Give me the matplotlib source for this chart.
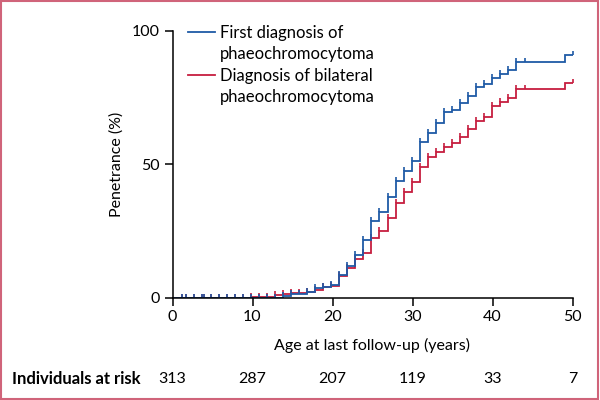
import numpy as np
import matplotlib
matplotlib.use("Agg")
import matplotlib.pyplot as plt
from matplotlib.lines import Line2D
from matplotlib.patches import Rectangle

plt.rcParams["font.family"] = ["Lato", "DejaVu Sans"]

# step times (age, years) and penetrance (%) after each step
first_ages = [0, 13.85, 14.85, 15.85, 16.8, 17.8, 18.8, 19.8, 20.8, 21.85, 22.85,
              23.85, 24.85, 25.85, 26.9, 27.9, 28.9, 29.9, 30.9, 31.9, 32.9,
              33.9, 34.95, 35.9, 36.95, 37.95, 38.95, 39.95, 40.95, 41.95, 42.95,
              49.05, 50]
first_vals = [0, 0.6, 1.3, 1.5, 2.1, 3.6, 4.0, 4.8, 8.4, 11.7, 15.9,
              21.4, 28.6, 32.0, 37.6, 43.7, 47.3, 51.4, 58.2, 61.8, 65.4,
              69.7, 70.4, 73.1, 75.7, 79.1, 80.0, 82.5, 83.7, 85.4, 88.2,
              91.0, 91.0]

bilat_ages = [0, 9.8, 12.8, 13.85, 14.85, 16.8, 17.8, 18.8, 19.8, 20.8, 21.85,
              22.85, 23.85, 24.85, 25.85, 26.9, 27.9, 28.9, 29.9, 30.9, 31.9,
              32.9, 33.9, 34.95, 35.9, 36.95, 37.95, 38.95, 39.95, 40.95, 41.95,
              42.95, 49.05, 50]
bilat_vals = [0, 0.3, 0.8, 1.3, 1.6, 2.1, 3.0, 3.8, 4.5, 7.9, 10.9,
              14.6, 16.6, 22.2, 25.1, 29.7, 35.6, 39.7, 43.2, 49.0, 52.6,
              54.7, 56.6, 57.9, 60.1, 63.1, 66.4, 67.6, 71.9, 73.2, 75.0,
              78.2, 80.6, 80.6]

# censoring marks
censor_ages = [1.2, 1.7, 2.7, 3.7, 3.9, 4.8, 5.8, 6.8, 7.8, 8.8, 9.8, 10.8,
               11.8, 12.8, 13.85, 14.85, 15.85, 16.8, 17.8, 18.8, 19.8, 20.8,
               21.85, 22.85, 23.85, 24.85, 25.85, 26.9, 27.9, 28.9, 29.9, 30.9,
               31.9, 32.9, 33.9, 34.95, 35.9, 36.95, 37.95, 38.95, 39.95, 40.95,
               41.95, 42.95, 44.05, 50]

risk_ages = [0, 10, 20, 30, 40, 50]
at_risk = [313, 287, 207, 119, 33, 7]

legend_labels = [("First diagnosis of", "phaeochromocytoma"),
                 ("Diagnosis of bilateral", "phaeochromocytoma")]

blue = "#1f5aa6"
red = "#c61e3f"

fig = plt.figure(figsize=(6, 4), dpi=100)
ax = fig.add_axes([172.5 / 600, 102.5 / 400, 400 / 600, 266.5 / 400])

tick_marker = [(0, 0), (0, 1)]


def draw_curve(ages, vals, color):
    ax.step(ages, vals, where="post", color=color, lw=1.3, solid_joinstyle="miter")
    idx = np.searchsorted(ages, censor_ages, side="right") - 1
    cy = np.array(vals)[idx]
    ax.plot(censor_ages, cy, ls="none", marker=tick_marker, markersize=6,
            markeredgewidth=1.2, color=color)


draw_curve(bilat_ages, bilat_vals, red)
draw_curve(first_ages, first_vals, blue)

ax.set_xlim(0, 50)
ax.set_ylim(0, 100)
ax.set_xticks(risk_ages)
ax.set_yticks([0, 50, 100])
for s in ["top", "right"]:
    ax.spines[s].set_visible(False)
for s in ["left", "bottom"]:
    ax.spines[s].set_linewidth(1.1)
ax.tick_params(direction="out", length=6, width=1.1, labelsize=11.5, pad=3)
ax.set_xlabel("Age at last follow-up (years)", fontsize=11.5, labelpad=10)
ax.set_ylabel("Penetrance (%)", fontsize=11.5, labelpad=6)

# legend drawn by hand (handle aligned with first text line)
for (l1, l2), color, ytop in zip(legend_labels, [blue, red], [32, 75]):
    fig.add_artist(Line2D([188 / 600, 215 / 600], [1 - ytop / 400] * 2,
                          color=color, lw=1.3))
    fig.text(220 / 600, 1 - (ytop + 1) / 400, l1, fontsize=12, va="center", ha="left")
    fig.text(220 / 600, 1 - (ytop + 22) / 400, l2, fontsize=12, va="center", ha="left")

# numbers at risk
fig.text(12 / 600, 1 - 379 / 400, "Individuals at risk", fontsize=12,
         fontweight="bold", va="center", ha="left")
for a, n in zip(risk_ages, at_risk):
    x = ax.transData.transform((a, 0))[0] / fig.bbox.width
    fig.text(x, 1 - 379 / 400, str(n), fontsize=11.5, va="center", ha="center")

fig.add_artist(Rectangle((0.002, 0.003), 0.995, 0.994, transform=fig.transFigure,
                         fill=False, edgecolor="#d0647a", lw=1.5))

fig.savefig("out.png", dpi=100)
